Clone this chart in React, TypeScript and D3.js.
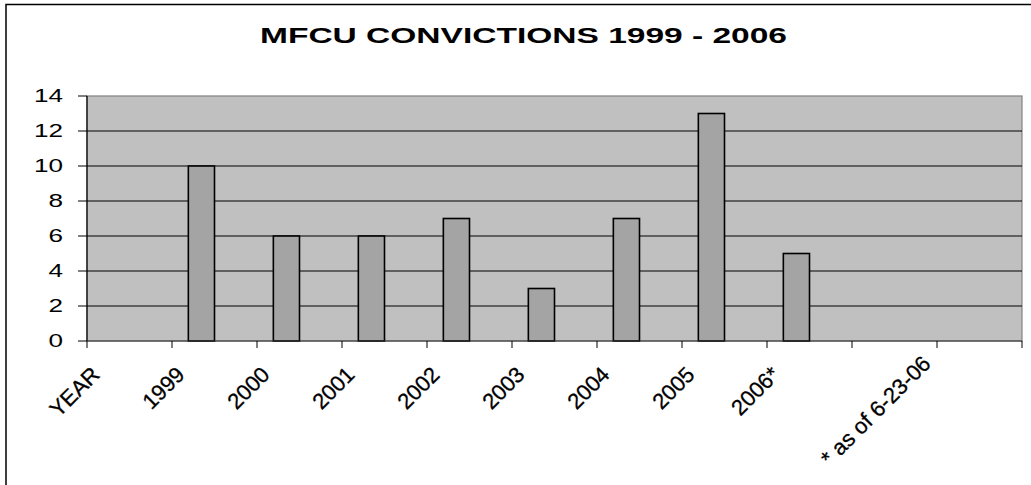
import React from "react";
import * as d3 from "d3";

const categories = ["YEAR", "1999", "2000", "2001", "2002", "2003", "2004", "2005", "2006*", "", "* as of 6-23-06"];
const convictions: (number | null)[] = [null, 10, 6, 6, 7, 3, 7, 13, 5, null, null];
const seriesNames = ["Convictions", "Blank"];
const yTicks = [0, 2, 4, 6, 8, 10, 12, 14];
const title = "MFCU CONVICTIONS 1999 - 2006";

const W = 1031;
const H = 485;
const plot = { left: 87, right: 1022, top: 96, bottom: 341 };
const FONT = "'Liberation Sans', Arial, Helvetica, sans-serif";
const SX = 1.45; // horizontal stretch of the original picture

export default function App() {
  const x0 = d3.scaleBand<string>().domain(categories.map((c, i) => String(i))).range([plot.left, plot.right]).padding(0);
  const x1 = d3.scaleBand<string>().domain(seriesNames).range([0, x0.bandwidth()]).paddingInner(0).paddingOuter(0.625);
  const y = d3.scaleLinear().domain([0, 14]).range([plot.bottom, plot.top]);

  const boundaries = d3.range(categories.length + 1).map((i) => plot.left + i * x0.step());

  return (
    <svg width={W} height={H} style={{ position: "absolute", left: 0, top: 0, background: "#fff" }} fontFamily={FONT}>
      {/* outer chart border */}
      <rect x={6} y={4.5} width={W + 20} height={H + 20} fill="#fff" stroke="#000" strokeWidth={1.5} />

      {/* title */}
      <text x={(260 + 787) / 2} y={43} textAnchor="middle" fontSize={22} fontWeight="bold" textLength={527} lengthAdjust="spacingAndGlyphs">
        {title}
      </text>

      {/* plot area */}
      <rect x={plot.left} y={plot.top} width={plot.right - plot.left} height={plot.bottom - plot.top} fill="#C0C0C0" stroke="#808080" strokeWidth={1.2} />

      {/* gridlines */}
      {yTicks.filter((t) => t > 0 && t < 14).map((t) => (
        <line key={"g" + t} x1={plot.left} x2={plot.right} y1={y(t)} y2={y(t)} stroke="#000" strokeWidth={1} />
      ))}

      {/* bars */}
      {convictions.map((v, i) =>
        v == null ? null : (
          <rect
            key={"b" + i}
            x={(x0(String(i)) as number) + (x1("Convictions") as number)}
            y={y(v)}
            width={x1.bandwidth()}
            height={y(0) - y(v)}
            fill="#A4A4A4"
            stroke="#000"
            strokeWidth={1.6}
          />
        )
      )}

      {/* axes */}
      <line x1={plot.left} x2={plot.left} y1={plot.top} y2={plot.bottom} stroke="#000" strokeWidth={1.2} />
      <line x1={plot.left} x2={plot.right} y1={plot.bottom} y2={plot.bottom} stroke="#333" strokeWidth={1.2} />

      {/* y ticks and labels */}
      {yTicks.map((t) => (
        <g key={"y" + t}>
          <line x1={plot.left - 9} x2={plot.left} y1={y(t)} y2={y(t)} stroke="#000" strokeWidth={1} />
          <text transform={`translate(63,${y(t)}) scale(${SX},1)`} textAnchor="end" dominantBaseline="central" fontSize={18}>
            {t}
          </text>
        </g>
      ))}

      {/* x ticks */}
      {boundaries.map((b, i) => (
        <line key={"xt" + i} x1={b} x2={b} y1={plot.bottom} y2={plot.bottom + 7} stroke="#000" strokeWidth={1} />
      ))}

      {/* x labels */}
      {categories.map((c, i) => {
        if (!c) return null;
        const left = x0(String(i)) as number;
        const isNote = i === categories.length - 1;
        const lx = isNote ? left - 5 : left + 14;
        const ly = isNote ? 365 : 376;
        return (
          <text
            key={"xl" + i}
            transform={`translate(${lx},${ly}) rotate(-45)`}
            textAnchor="end"
            fontSize={22}
            stroke="#000"
            strokeWidth={0.3}
          >
            {c}
          </text>
        );
      })}
    </svg>
  );
}
